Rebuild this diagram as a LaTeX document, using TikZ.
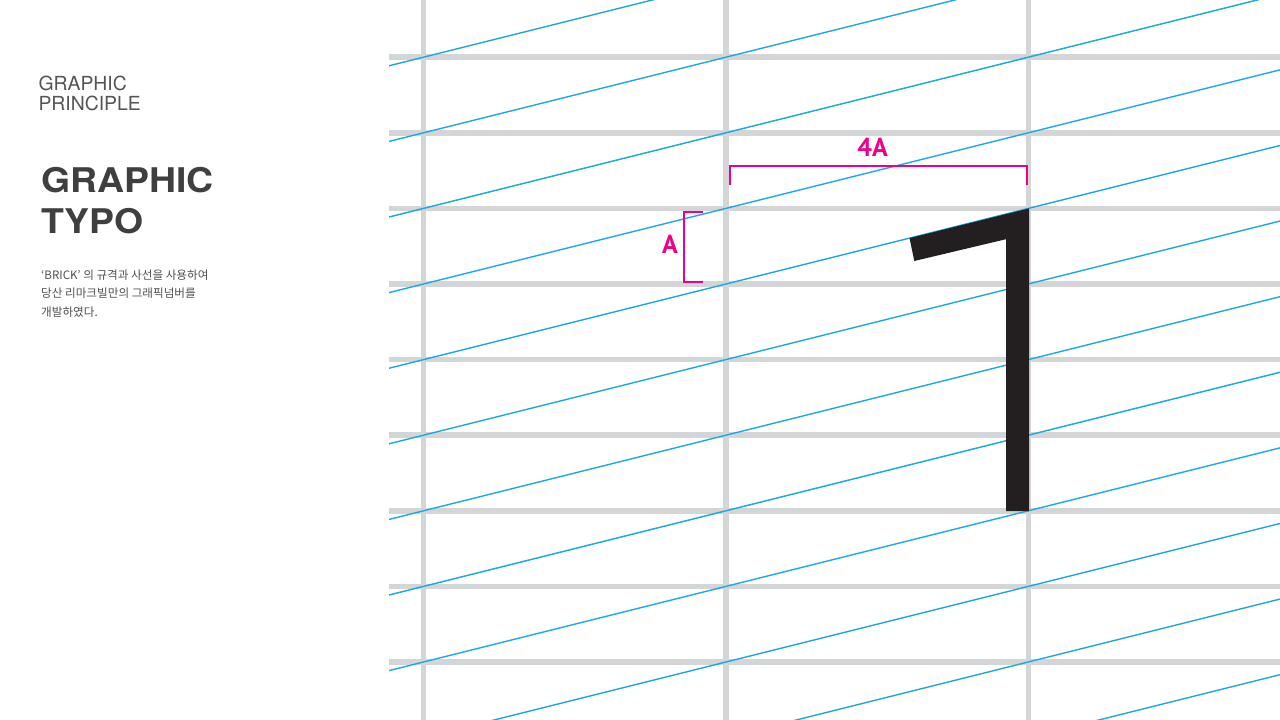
\documentclass[tikz,border=0pt]{standalone}
\usepackage{fontspec}
\usetikzlibrary{calc}
\setmainfont{TeX Gyre Heros}
\newfontfamily\krfont{Noto Sans CJK KR}
\newfontfamily\dimfont{PT Sans}
\definecolor{gridgray}{HTML}{D4D5D6}
\definecolor{diagblue}{HTML}{1CA9E2}
\definecolor{dimmag}{RGB}{236,0,140}
\definecolor{glyphblack}{HTML}{231F20}
\definecolor{headgray}{HTML}{3F3F3F}
\definecolor{lightgray}{HTML}{555555}
\definecolor{bodygray}{HTML}{505050}
\begin{document}
\begin{tikzpicture}[x=1pt,y=-1pt,
  gridline/.style={draw=gridgray, line width=5.5pt},
  diagline/.style={draw=diagblue, line width=1.4pt},
  dimbar/.style={fill=dimmag, draw=none},
  dimlabel/.style={text=dimmag, font=\dimfont\bfseries\fontsize{26}{26}\selectfont, inner sep=0pt, anchor=base},
  smallhead/.style={text=lightgray, font=\fontsize{19.4}{19.4}\selectfont, inner sep=0pt, anchor=base west},
  bighead/.style={text=headgray, font=\bfseries\fontsize{34}{34}\selectfont, inner sep=0pt, anchor=base west},
  bodytext/.style={text=bodygray, font=\krfont\fontsize{11.6}{11.6}\selectfont, inner sep=0pt, anchor=base west}
]
\useasboundingbox (0,0) rectangle (1280,720);
\fill[white] (0,0) rectangle (1280,720);

% grid
\foreach \i in {0,...,8} {
  \draw[gridline] (389,{57.2+75.6*\i}) -- (1280,{57.2+75.6*\i});
}
\foreach \i in {0,1,2} {
  \draw[gridline] ({423.5+302.4*\i},0) -- ({423.5+302.4*\i},720);
}

% diagonals
\begin{scope}
  \clip (389,0) rectangle (1280,720);
  \foreach \k in {0,...,11} {
    \draw[diagline] (389,{57.2+75.6*\k+0.25*34.5}) -- (1280,{57.2+75.6*\k-0.25*856.5});
  }
\end{scope}

% dimension 4A
\coordinate (h1) at (730,185);
\coordinate (h2) at (730,166);
\coordinate (h3) at (1027,166);
\coordinate (h4) at (1027,185);
\fill[dimbar] ($(h1)+(-1,0)$) rectangle ($(h2)+(1,-1)$);
\fill[dimbar] ($(h2)+(-1,-1)$) rectangle ($(h3)+(1,1)$);
\fill[dimbar] ($(h3)+(-1,-1)$) rectangle ($(h4)+(1,0)$);

% dimension A
\coordinate (v1) at (703,212);
\coordinate (v2) at (684,212);
\coordinate (v3) at (684,282);
\coordinate (v4) at (703,282);
\fill[dimbar] ($(v1)+(0,-1)$) rectangle ($(v2)+(-1,1)$);
\fill[dimbar] ($(v2)+(-1,-1)$) rectangle ($(v3)+(1,1)$);
\fill[dimbar] ($(v3)+(-1,-1)$) rectangle ($(v4)+(0,1)$);

% glyph "1"
\fill[fill=glyphblack] (1029,208.4) -- (1029,511) -- (1006,511) -- (1006,239.2)
  -- (914.3,261) -- (909.5,238.1) -- cycle;

\node[dimlabel] (lab4a) at (872.5,156.7) {4A};
\node[dimlabel] (laba) at (670,253.3) {A};

% left texts
\node[smallhead] (sh1) at (38.3,90.7) {GRAPHIC};
\node[smallhead] (sh2) at (38.3,110) {PRINCIPLE};
\node[bighead] (bh1) at (41.3,192.7) {\scalebox{1.1}[1]{GRAPHIC}};
\node[bighead] (bh2) at (41.3,233.3) {\scalebox{1.1}[1]{TYPO}};
\node[bodytext] (bt1) at (41,279) {‘BRICK’ 의 규격과 사선을 사용하여};
\node[bodytext] (bt2) at (41,297.5) {당산 리마크빌만의 그래픽넘버를};
\node[bodytext] (bt3) at (41,316) {개발하였다.};
\end{tikzpicture}
\end{document}
